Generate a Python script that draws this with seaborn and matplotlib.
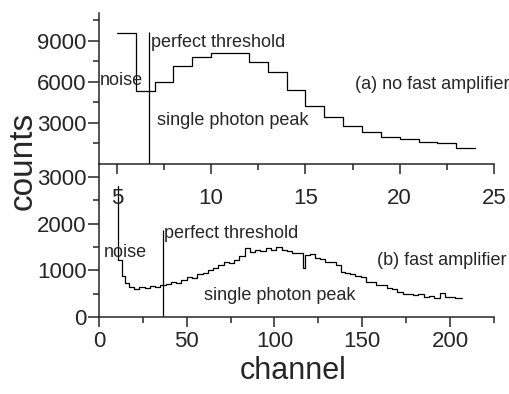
import matplotlib
matplotlib.use('Agg')

import matplotlib.pyplot as plt
import seaborn as sns
from matplotlib.ticker import MultipleLocator

# (a) no fast amplifier: right edge of each bin and its counts (steps-pre)
chan_a = [5, 6, 7, 8, 9, 10, 11, 12, 13, 14, 15, 16, 17, 18, 19, 20, 21, 22, 23, 24]
counts_a = [9600, 9600, 5360, 5980, 7190, 7800, 8100, 8100, 7440, 6710,
            5420, 4240, 3460, 2800, 2370, 2000, 1800, 1630, 1560, 1200]

# (b) fast amplifier
chan_b = [11, 13, 15, 17, 20, 23, 26, 29, 32, 35, 38, 41, 44, 47, 50, 53, 56, 59,
          62, 65, 68, 71, 74, 77, 80, 83, 86, 89, 92, 95, 98, 101, 104, 107, 110,
          113, 116, 117.5, 120, 123, 126, 129, 132, 135, 138, 140, 143, 146, 149,
          152, 155, 158, 161, 164, 167, 170, 173, 176, 179, 182, 185, 188, 191,
          194, 197, 200, 203, 206, 207]
counts_b = [2800, 1220, 880, 720, 640, 610, 650, 625, 655, 640, 690, 700, 740, 720,
            800, 860, 830, 920, 950, 1010, 1040, 1120, 1180, 1150, 1230, 1300, 1480,
            1400, 1440, 1410, 1470, 1440, 1490, 1430, 1420, 1380, 1370, 1060, 1330,
            1360, 1260, 1250, 1180, 1170, 1110, 970, 940, 930, 870, 860, 760, 750,
            690, 680, 620, 610, 540, 490, 500, 470, 490, 430, 440, 410, 510, 420,
            430, 400, 410]

thr_a, thr_a_top = 6.73, 9660
thr_b, thr_b_top = 36.7, 1860

sns.set_style('ticks')
plt.rcParams['font.family'] = ['Liberation Sans', 'DejaVu Sans']
plt.rcParams['axes.linewidth'] = 1.1

fig = plt.figure(figsize=(5.1, 3.94), dpi=100)
ax_a = fig.add_axes([0.194, 0.5838, 0.7745, 0.3833])
ax_b = fig.add_axes([0.194, 0.1954, 0.7745, 0.3884])
ax_b.set_facecolor('none')
ax_a.set_zorder(2)
ax_a.set_facecolor('none')

# top panel
sns.lineplot(x=chan_a, y=counts_a, ax=ax_a, color='black', lw=0.9,
             drawstyle='steps-pre', estimator=None, sort=False)
ax_a.vlines(thr_a, 0, thr_a_top, color='black', lw=0.9)
ax_a.set_xlim(4.05, 25)
ax_a.set_ylim(0, 11050)
ax_a.set_xticks([5, 10, 15, 20, 25])
ax_a.xaxis.set_minor_locator(MultipleLocator(2.5))
ax_a.set_yticks([3000, 6000, 9000])
ax_a.set_yticks([1500, 4500, 7500, 10500], minor=True)
ax_a.tick_params(axis='x', which='major', length=7, width=1.1, pad=10, labelsize=16)
ax_a.tick_params(axis='x', which='minor', length=4, width=1.1)
ax_a.tick_params(axis='y', which='major', length=8, width=1.1, pad=1, labelsize=16)
ax_a.tick_params(axis='y', which='minor', length=4, width=1.1)
sns.despine(ax=ax_a)

ax_a.text(6.80, 8583, 'perfect threshold', fontsize=13, va='baseline')
ax_a.text(4.10, 5780, 'noise', fontsize=13, va='baseline')
ax_a.text(7.14, 2854, 'single photon peak', fontsize=13, va='baseline')
ax_a.text(17.62, 5466, '(a) no fast amplifier', fontsize=13, va='baseline')

# bottom panel
sns.lineplot(x=chan_b, y=counts_b, ax=ax_b, color='black', lw=0.9,
             drawstyle='steps-pre', estimator=None, sort=False)
ax_b.vlines(thr_b, 0, thr_b_top, color='black', lw=0.9)
ax_b.set_xlim(0, 225)
ax_b.set_ylim(0, 3280)
ax_b.set_xticks([0, 50, 100, 150, 200])
ax_b.xaxis.set_minor_locator(MultipleLocator(25))
ax_b.set_yticks([0, 1000, 2000, 3000])
ax_b.yaxis.set_minor_locator(MultipleLocator(500))
ax_b.tick_params(axis='x', which='major', length=7, width=1.1, pad=3, labelsize=16)
ax_b.tick_params(axis='x', which='minor', length=4, width=1.1)
ax_b.tick_params(axis='y', which='major', length=8, width=1.1, pad=1, labelsize=16)
ax_b.tick_params(axis='y', which='minor', length=4, width=1.1)
sns.despine(ax=ax_b)

ax_b.text(37.2, 1684, 'perfect threshold', fontsize=13, va='baseline')
ax_b.text(2.85, 1290, 'noise', fontsize=13, va='baseline')
ax_b.text(59.8, 364, 'single photon peak', fontsize=13, va='baseline')
ax_b.text(158.2, 1113, '(b) fast amplifier', fontsize=13, va='baseline')

fig.text(0.046, 0.591, 'counts', fontsize=24, rotation=90, ha='center', va='center')
fig.text(0.5755, 0.02, 'channel', fontsize=22, ha='center', va='bottom')

fig.savefig('out.png', dpi=100)
